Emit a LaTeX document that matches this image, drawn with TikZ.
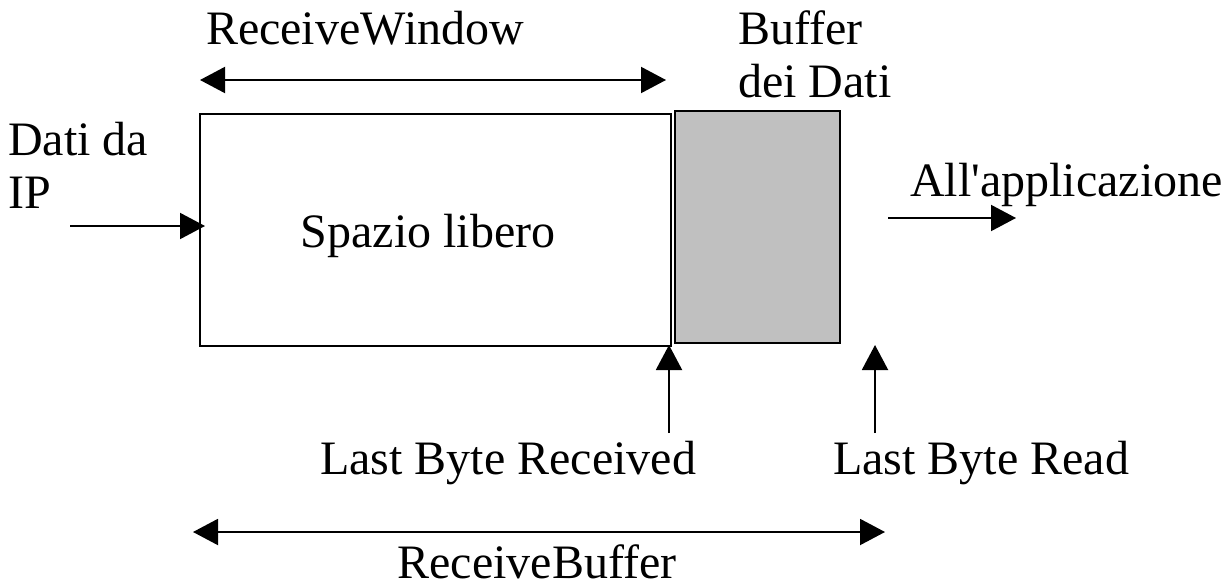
\documentclass[tikz,border=0pt]{standalone}
\usepackage{fontspec}
\setmainfont{Liberation Serif}[Ligatures=TeXOff]
\usetikzlibrary{arrows.meta}
\begin{document}
\begin{tikzpicture}[x=1pt,y=-1pt,
  lbl/.style={inner sep=0pt,anchor=base,font=\fontsize{48}{56}\selectfont},
  lbll/.style={lbl,anchor=base west},
  arr/.style={line width=2pt,-{Triangle[length=25pt,width=26pt]}},
  darr/.style={line width=2pt,{Triangle[length=25pt,width=26pt]}-{Triangle[length=25pt,width=26pt]}},
  box/.style={draw,line width=2pt,inner sep=0pt}]
\useasboundingbox (0,0) rectangle (1228,586);
\node[box,minimum width=471pt,minimum height=232pt] (free) at (435.5,230) {};
\node[box,fill={rgb,255:red,192;green,192;blue,192},minimum width=165pt,minimum height=232pt] (buf) at (757.5,227) {};
\node[lbl] (sp) at (428,247) {Spazio libero};
\node[lbl] (rw) at (365,45) {ReceiveWindow};
\node[lbll] (b1) at (738,45) {Buffer};
\node[lbll] (b2) at (738,97) {dei Dati};
\node[lbll] (d1) at (8,155) {Dati da};
\node[lbll] (d2) at (8,208) {IP};
\node[lbll] (app) at (910,196) {All'applicazione};
\node[lbl] (lbr) at (508,474) {Last Byte Received};
\node[lbl] (lbrd) at (981,474) {Last Byte Read};
\node[lbl] (rb) at (537,578) {ReceiveBuffer};
\coordinate (rwl) at (200,80); \coordinate (rwr) at (666,80);
\coordinate (ipin) at (70,226); \coordinate (ipout) at (205,226);
\coordinate (appin) at (888,218); \coordinate (appout) at (1016,218);
\coordinate (lbrb) at (669,433); \coordinate (lbrt) at (669,345);
\coordinate (lbdb) at (875,433); \coordinate (lbdt) at (875,345);
\coordinate (rbl) at (193,532); \coordinate (rbr) at (885,532);
\draw[darr] (rwl) -- (rwr);
\draw[arr] (ipin) -- (ipout);
\draw[arr] (appin) -- (appout);
\draw[arr] (lbrb) -- (lbrt);
\draw[arr] (lbdb) -- (lbdt);
\draw[darr] (rbl) -- (rbr);
\end{tikzpicture}
\end{document}
